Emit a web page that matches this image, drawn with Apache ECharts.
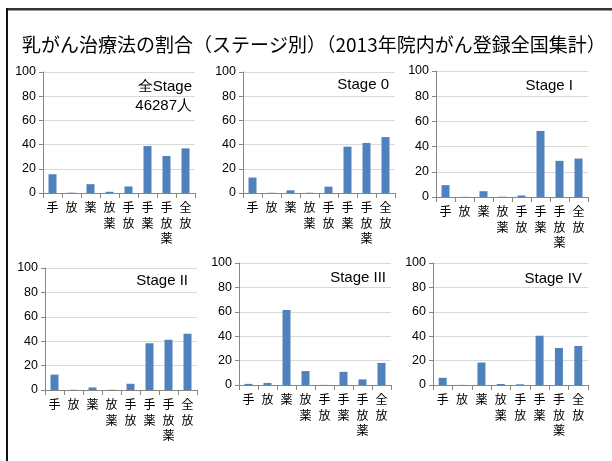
<!DOCTYPE html>
<html>
<head>
<meta charset="utf-8">
<script src="https://cdn.jsdelivr.net/npm/echarts@6/dist/echarts.min.js"></script>
<style>
  html, body { margin: 0; padding: 0; background: #fff; }
  #chart { width: 612px; height: 461px; }
</style>
</head>
<body>
<div id="chart"></div>
<script>
// Treatment categories (手=手術, 放=放射線, 薬=薬物)
const categories = ['手', '放', '薬', '放薬', '手放', '手薬', '手放薬', '全放'];

// Share of patients (%) for each treatment, by stage
const allStage = [15.5, 0.3, 7.3, 1.0, 5.4, 38.8, 30.6, 36.9];
const stage0   = [12.8, 0.2, 2.2, 0.2, 5.2, 38.3, 41.3, 46.2];
const stageI   = [9.4, 0.1, 4.6, 0.2, 1.2, 52.4, 28.7, 30.5];
const stageII  = [12.6, 0.2, 2.1, 0.2, 5.1, 38.3, 41.2, 46.1];
const stageIII = [0.9, 1.7, 61.5, 11.4, 0.1, 10.8, 4.6, 18.1];
const stageIV  = [5.9, 0.1, 18.4, 0.8, 0.6, 40.4, 30.3, 32.0];

const panelNames = ['全Stage\n46287人', 'Stage 0', 'Stage I', 'Stage II', 'Stage III', 'Stage IV'];
const panelData = [allStage, stage0, stageI, stageII, stageIII, stageIV];

// Plot boxes for the 2 x 3 layout
const grids = [
  { left: 43,  top: 72,  width: 152, height: 121 },
  { left: 243, top: 72,  width: 152, height: 121 },
  { left: 436, top: 71,  width: 152, height: 126 },
  { left: 45,  top: 268, width: 152, height: 122 },
  { left: 239, top: 263, width: 152, height: 122 },
  { left: 433, top: 263, width: 155, height: 122 }
];
// Right edge / vertical centre of each panel's caption
const captionPos = [[192, 96], [389, 85], [573, 86], [188, 281], [386, 278], [582, 279]];

const axisGray = '#868686';
const cjk = '"Noto Sans CJK JP", sans-serif';
const latin = '"Liberation Sans", Arial, sans-serif';

const chart = echarts.init(document.getElementById('chart'), null, { renderer: 'canvas' });

const xAxis = [], yAxis = [], series = [], captions = [];
grids.forEach((g, i) => {
  xAxis.push({
    type: 'category', gridIndex: i, data: categories,
    axisLine: { lineStyle: { color: axisGray, width: 1 } },
    axisTick: { show: true, alignWithLabel: false, length: 5, lineStyle: { color: axisGray } },
    axisLabel: {
      interval: 0, margin: 7, color: '#000', fontFamily: cjk, fontSize: 12, lineHeight: 15.5,
      formatter: v => v.split('').join('\n')
    }
  });
  yAxis.push({
    type: 'value', gridIndex: i, min: 0, max: 100, interval: 20,
    axisLine: { show: true, lineStyle: { color: axisGray, width: 1 } },
    axisTick: { show: true, length: 4, lineStyle: { color: axisGray } },
    axisLabel: { margin: 7, color: '#000', fontFamily: latin, fontSize: 12.5 },
    splitLine: { lineStyle: { color: '#d9d9d9', width: 1 } }
  });
  series.push({
    type: 'bar', xAxisIndex: i, yAxisIndex: i, data: panelData[i],
    barWidth: 8,
    itemStyle: { color: '#4f81bd' }
  });
  captions.push({
    type: 'text', silent: true,
    x: captionPos[i][0], y: captionPos[i][1],
    style: {
      text: panelNames[i], fill: '#000',
      font: '15px "Liberation Sans", Arial, sans-serif',
      lineHeight: 19, align: 'right', verticalAlign: 'middle'
    }
  });
});

chart.setOption({
  animation: false,
  backgroundColor: '#fff',
  title: {
    text: '乳がん治療法の割合（ステージ別）（2013年院内がん登録全国集計）',
    left: 17, top: 30,
    textStyle: { fontFamily: cjk, fontSize: 19, fontWeight: 'normal', color: '#000' }
  },
  grid: grids,
  xAxis: xAxis,
  yAxis: yAxis,
  series: series,
  graphic: captions.concat([
    { type: 'rect', shape: { x: 6, y: 8, width: 606, height: 2.5 }, style: { fill: '#333' }, silent: true },
    { type: 'rect', shape: { x: 6, y: 8, width: 2, height: 453 }, style: { fill: '#111' }, silent: true }
  ])
});
</script>
</body>
</html>
